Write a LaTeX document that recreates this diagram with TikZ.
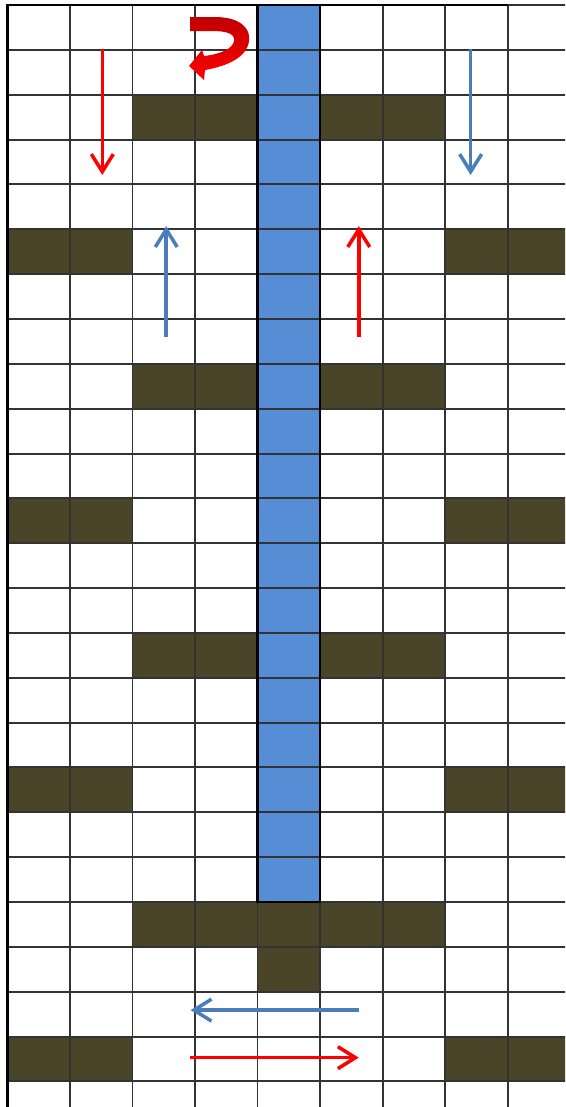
\documentclass[tikz,border=0pt]{standalone}
\usetikzlibrary{arrows.meta}

\definecolor{wallcol}{RGB}{74,69,41}
\definecolor{pipecol}{RGB}{85,142,213}
\definecolor{flowblue}{RGB}{74,126,187}
\definecolor{flowred}{RGB}{255,0,0}
\definecolor{turnred}{RGB}{192,0,0}

\begin{document}
\begin{tikzpicture}[
  x=1cm, y=0.7176cm,
  % Cells
  wall/.style={fill=wallcol},
  pipe/.style={fill=pipecol},
  gridline/.style={draw=black!80, line width=0.9pt},
  % Flow arrows
  redflow/.style={draw=flowred, line width=1.6pt, -{Straight Barb[length=8pt, width=10pt]}},
  blueflow/.style={draw=flowblue, line width=1.6pt, -{Straight Barb[length=8pt, width=10pt]}}
  ]

  \useasboundingbox (-0.12,0.1115) rectangle (8.92,-24.57);
  \clip (-0.12,0.1115) rectangle (8.92,-24.57);

  % --- Walls ---
  \fill[wall] (2,-2) rectangle (4,-3);
  \fill[wall] (5,-2) rectangle (7,-3);
  \fill[wall] (0,-5) rectangle (2,-6);
  \fill[wall] (7,-5) rectangle (9,-6);
  \fill[wall] (2,-8) rectangle (4,-9);
  \fill[wall] (5,-8) rectangle (7,-9);
  \fill[wall] (0,-11) rectangle (2,-12);
  \fill[wall] (7,-11) rectangle (9,-12);
  \fill[wall] (2,-14) rectangle (4,-15);
  \fill[wall] (5,-14) rectangle (7,-15);
  \fill[wall] (0,-17) rectangle (2,-18);
  \fill[wall] (7,-17) rectangle (9,-18);
  \fill[wall] (2,-20) rectangle (7,-21);
  \fill[wall] (4,-21) rectangle (5,-22);
  \fill[wall] (0,-23) rectangle (2,-24);
  \fill[wall] (7,-23) rectangle (9,-24);

  % --- Pipe ---
  \fill[pipe] (4,0) rectangle (5,-20);

  % --- Grid ---
  \draw[gridline, xstep=1cm, ystep=0.7176cm] (0,-25) grid (9,0);
  \draw[black, line width=1.2pt] (4,0) rectangle (5,-20);
  \draw[black, line width=1.2pt] (0,-25) -- (0,0) -- (8,0);

  % --- Turning arrow at the top ---
  \shade[top color=turnred, bottom color=flowred]
    (2.92,-0.268) -- (3.32,-0.268)
    .. controls (3.752,-0.268) and (3.896,-0.557) .. (3.864,-0.803)
    .. controls (3.832,-1.159) and (3.528,-1.360) .. (3.16,-1.449)
    -- (3.144,-1.672) -- (2.904,-1.360) -- (3.112,-1.003) -- (3.144,-1.137)
    .. controls (3.432,-1.093) and (3.608,-0.959) .. (3.624,-0.803)
    .. controls (3.64,-0.647) and (3.528,-0.580) .. (3.272,-0.580)
    -- (2.92,-0.580) -- cycle;

  % --- Flow arrows ---
  \coordinate (downRedA) at (1.517,-0.99);
  \coordinate (downRedB) at (1.517,-3.79);
  \coordinate (downBlueA) at (7.41,-0.99);
  \coordinate (downBlueB) at (7.41,-3.79);
  \coordinate (upBlueA) at (2.54,-7.40);
  \coordinate (upBlueB) at (2.54,-4.93);
  \coordinate (upRedA) at (5.62,-7.40);
  \coordinate (upRedB) at (5.62,-4.93);
  \coordinate (leftBlueA) at (5.62,-22.41);
  \coordinate (leftBlueB) at (2.93,-22.41);
  \coordinate (rightRedA) at (2.92,-23.47);
  \coordinate (rightRedB) at (5.62,-23.47);

  \draw[redflow] (downRedA) -- (downRedB);
  \draw[blueflow] (downBlueA) -- (downBlueB);
  \draw[blueflow] (upBlueA) -- (upBlueB);
  \draw[redflow] (upRedA) -- (upRedB);
  \draw[blueflow] (leftBlueA) -- (leftBlueB);
  \draw[redflow] (rightRedA) -- (rightRedB);

\end{tikzpicture}
\end{document}
